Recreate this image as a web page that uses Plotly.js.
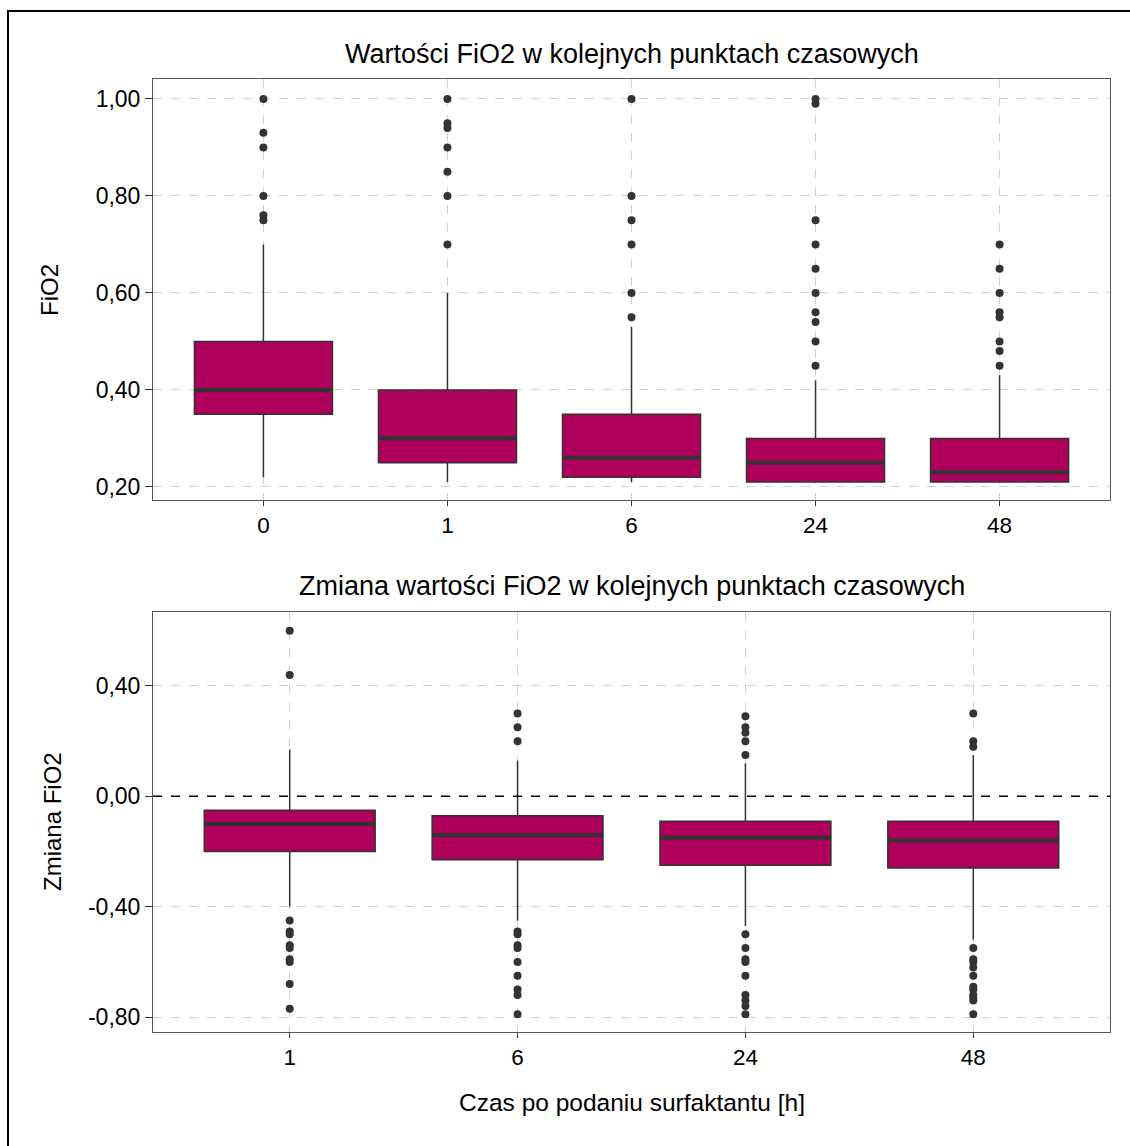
<!DOCTYPE html>
<html>
<head>
<meta charset="utf-8">
<script src="https://cdn.plot.ly/plotly-3.0.1.min.js"></script>
<style>
  html, body { margin: 0; padding: 0; background: #fff; }
  #wrap { position: relative; width: 1130px; height: 1146px; overflow: hidden; }
  #chart { position: absolute; left: 0; top: 0; width: 1130px; height: 1146px; }
  #frame { position: absolute; left: 7px; top: 10px; width: 1200px; height: 1200px;
           border-left: 2px solid #000; border-top: 2px solid #000; pointer-events: none; }
</style>
</head>
<body>
<div id="wrap"><div id="chart"></div><div id="frame"></div></div>
<script>
// ---- top panel: FiO2 values ----
const cats1 = ['0', '1', '6', '24', '48'];
const q1Top = [0.35, 0.25, 0.22, 0.21, 0.21];
const medTop = [0.40, 0.30, 0.26, 0.25, 0.23];
const q3Top = [0.50, 0.40, 0.35, 0.30, 0.30];
const lowTop = [0.22, 0.21, 0.21, 0.21, 0.21];
const highTop = [0.70, 0.60, 0.53, 0.42, 0.43];
const outTop = [
  [1.00, 0.93, 0.90, 0.80, 0.76, 0.75],
  [1.00, 0.95, 0.94, 0.90, 0.85, 0.80, 0.70],
  [1.00, 0.80, 0.75, 0.70, 0.60, 0.55],
  [1.00, 0.99, 0.75, 0.70, 0.65, 0.60, 0.56, 0.54, 0.50, 0.45],
  [0.70, 0.65, 0.60, 0.56, 0.55, 0.50, 0.48, 0.45]
];
const yTicksTop = [0.2, 0.4, 0.6, 0.8, 1.0];
const yTickTextTop = ['0,20', '0,40', '0,60', '0,80', '1,00'];

// ---- bottom panel: change of FiO2 ----
const cats2 = ['1', '6', '24', '48'];
const q1Bot = [-0.20, -0.23, -0.25, -0.26];
const medBot = [-0.10, -0.14, -0.15, -0.16];
const q3Bot = [-0.05, -0.07, -0.09, -0.09];
const lowBot = [-0.40, -0.45, -0.47, -0.52];
const highBot = [0.17, 0.13, 0.12, 0.15];
const outBot = [
  [0.60, 0.44, -0.45, -0.49, -0.50, -0.54, -0.55, -0.59, -0.60, -0.68, -0.77],
  [0.30, 0.25, 0.20, -0.49, -0.50, -0.54, -0.55, -0.60, -0.65, -0.70, -0.72, -0.79],
  [0.29, 0.25, 0.23, 0.20, 0.15, -0.50, -0.55, -0.59, -0.60, -0.65, -0.72, -0.74, -0.76, -0.79],
  [0.30, 0.20, 0.18, -0.55, -0.59, -0.60, -0.62, -0.65, -0.69, -0.70, -0.72, -0.73, -0.74, -0.79]
];
const yTicksBot = [-0.8, -0.4, 0, 0.4];
const yTickTextBot = ['-0,80', '-0,40', '0,00', '0,40'];

const titleTop = 'Wartości FiO2 w kolejnych punktach czasowych';
const titleBot = 'Zmiana wartości FiO2 w kolejnych punktach czasowych';
const yTitleTop = 'FiO2';
const yTitleBot = 'Zmiana FiO2';
const xTitle = 'Czas po podaniu surfaktantu [h]';

const FILL = '#AF005B';
const DARK = '#333333';
const BOXW = 0.75;
const FONT = '"Liberation Sans", Arial, sans-serif';

function boxTrace(cats, q1, med, q3, lo, hi, xa, ya) {
  return {
    type: 'box', x: cats, q1: q1, median: med, q3: q3,
    lowerfence: lo, upperfence: hi,
    width: BOXW, whiskerwidth: 0, boxpoints: false,
    fillcolor: FILL, line: { color: DARK, width: 1.5 },
    xaxis: xa, yaxis: ya, showlegend: false, hoverinfo: 'y'
  };
}
function outlierTrace(cats, outs, xa, ya) {
  const xs = [], ys = [];
  cats.forEach((c, i) => outs[i].forEach(v => { xs.push(c); ys.push(v); }));
  return {
    type: 'scatter', mode: 'markers', x: xs, y: ys,
    marker: { color: DARK, size: 8 },
    xaxis: xa, yaxis: ya, showlegend: false, hoverinfo: 'y'
  };
}
function medianShapes(med, xref, yref) {
  return med.map((m, i) => ({
    type: 'line', xref: xref, yref: yref,
    x0: i - BOXW / 2, x1: i + BOXW / 2, y0: m, y1: m,
    line: { color: DARK, width: 4 }, layer: 'above'
  }));
}

const data = [
  boxTrace(cats1, q1Top, medTop, q3Top, lowTop, highTop, 'x', 'y'),
  outlierTrace(cats1, outTop, 'x', 'y'),
  boxTrace(cats2, q1Bot, medBot, q3Bot, lowBot, highBot, 'x2', 'y2'),
  outlierTrace(cats2, outBot, 'x2', 'y2')
];

const axisCommon = {
  showline: true, mirror: true, linecolor: '#555', linewidth: 1,
  showgrid: true, gridcolor: '#d0d0d0', gridwidth: 1, griddash: 'dash',
  ticks: 'outside', ticklen: 7, tickwidth: 1, tickcolor: DARK,
  tickfont: { family: FONT, size: 23, color: '#000' },
  zeroline: false, fixedrange: true
};
const xAxisExtra = { ticklen: 5, tickfont: { family: FONT, size: 22.5, color: '#000' } };

const yTopDomain = [(1032 - 500) / 953, 1];
const yBotDomain = [0, (1032 - 612) / 953];

const layout = {
  width: 1130, height: 1146,
  margin: { l: 153, r: 20, t: 79, b: 114 },
  paper_bgcolor: '#fff', plot_bgcolor: '#fff',
  font: { family: FONT, color: '#000' },
  showlegend: false,
  xaxis: Object.assign({}, axisCommon, xAxisExtra, {
    type: 'category', categoryorder: 'array', categoryarray: cats1,
    range: [-0.6, cats1.length - 0.4], anchor: 'y'
  }),
  yaxis: Object.assign({}, axisCommon, {
    domain: yTopDomain, range: [0.173, 1.041],
    tickvals: yTicksTop, ticktext: yTickTextTop, anchor: 'x'
  }),
  xaxis2: Object.assign({}, axisCommon, xAxisExtra, {
    type: 'category', categoryorder: 'array', categoryarray: cats2,
    range: [-0.6, cats2.length - 0.4], anchor: 'y2'
  }),
  yaxis2: Object.assign({}, axisCommon, {
    domain: yBotDomain, range: [-0.854, 0.668],
    tickvals: yTicksBot, ticktext: yTickTextBot, anchor: 'x2'
  }),
  shapes: [
    ...medianShapes(medTop, 'x', 'y'),
    ...medianShapes(medBot, 'x2', 'y2'),
    { type: 'line', xref: 'x2 domain', yref: 'y2', x0: 0, x1: 1, y0: 0, y1: 0,
      line: { color: '#000', width: 1.5, dash: 'dash' }, layer: 'above' }
  ],
  annotations: [
    { text: titleTop, xref: 'paper', yref: 'paper', x: 0.5, y: (1032 - 54) / 953,
      xanchor: 'center', yanchor: 'middle', showarrow: false,
      font: { family: FONT, size: 27, color: '#000' } },
    { text: titleBot, xref: 'paper', yref: 'paper', x: 0.5, y: (1032 - 586) / 953,
      xanchor: 'center', yanchor: 'middle', showarrow: false,
      font: { family: FONT, size: 27, color: '#000' } },
    { text: yTitleTop, xref: 'paper', yref: 'paper', x: (50 - 153) / 957, y: (1032 - 290) / 953,
      xanchor: 'center', yanchor: 'middle', showarrow: false, textangle: -90,
      font: { family: FONT, size: 24, color: '#000' } },
    { text: yTitleBot, xref: 'paper', yref: 'paper', x: (52 - 153) / 957, y: (1032 - 822) / 953,
      xanchor: 'center', yanchor: 'middle', showarrow: false, textangle: -90,
      font: { family: FONT, size: 24, color: '#000' } },
    { text: xTitle, xref: 'paper', yref: 'paper', x: 0.5, y: (1032 - 1102) / 953,
      xanchor: 'center', yanchor: 'middle', showarrow: false,
      font: { family: FONT, size: 24.5, color: '#000' } }
  ]
};

Plotly.newPlot('chart', data, layout, { displayModeBar: false, staticPlot: true });
</script>
</body>
</html>
